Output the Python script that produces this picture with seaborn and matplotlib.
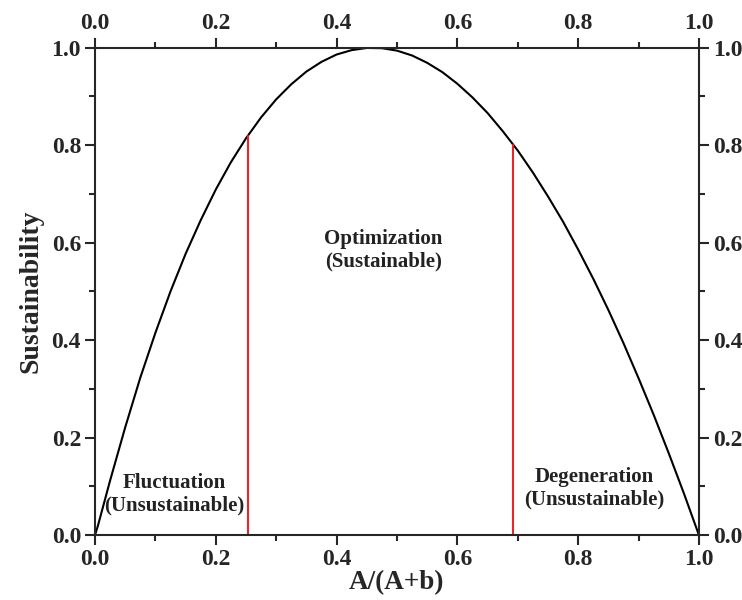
import matplotlib
matplotlib.use("Agg")
import matplotlib.pyplot as plt
import seaborn as sns
import pandas as pd
from matplotlib.ticker import MultipleLocator

# values
ratio = [0.0, 0.005, 0.01, 0.025, 0.05, 0.075, 0.1, 0.125, 0.15, 0.175, 0.2, 0.225,
         0.25, 0.275, 0.3, 0.325, 0.35, 0.375, 0.4, 0.425, 0.45, 0.475, 0.5,
         0.525, 0.55, 0.575, 0.6, 0.625, 0.65, 0.675, 0.7, 0.725, 0.75, 0.775,
         0.8, 0.825, 0.85, 0.875, 0.9, 0.925, 0.95, 0.975, 1.0]
sustain = [0.0, 0.020, 0.043, 0.112, 0.221, 0.323, 0.415, 0.500, 0.577, 0.646, 0.709, 0.765,
           0.814, 0.857, 0.894, 0.925, 0.951, 0.971, 0.986, 0.995, 0.9995, 0.999, 0.994,
           0.984, 0.969, 0.950, 0.926, 0.898, 0.866, 0.829, 0.789, 0.744, 0.695, 0.643,
           0.586, 0.526, 0.462, 0.394, 0.322, 0.247, 0.168, 0.086, 0.0]

# red boundary lines (x position, height where they meet the curve)
bound_x = [0.254, 0.6915]
bound_top = [0.819, 0.800]

region_labels = ["Fluctuation\n(Unsustainable)", "Optimization\n(Sustainable)",
                 "Degeneration\n(Unsustainable)"]
region_x = [0.132, 0.477, 0.826]
region_y = [0.084, 0.585, 0.096]

df = pd.DataFrame({"ratio": ratio, "sustain": sustain})

sns.set_style("ticks")
plt.rcParams["font.family"] = ["Liberation Serif", "DejaVu Serif"]
plt.rcParams["font.weight"] = "bold"

fig = plt.figure(figsize=(7.42, 6.0), dpi=100)
ax = fig.add_axes([0.128, 0.108, 0.814, 0.8125])

sns.lineplot(data=df, x="ratio", y="sustain", ax=ax, color="black", linewidth=1.5)
for bx, bt in zip(bound_x, bound_top):
    ax.plot([bx, bx], [0, bt], color="#e8242c", linewidth=1.5)

for lab, tx, ty in zip(region_labels, region_x, region_y):
    ax.text(tx, ty, lab, ha="center", va="center", fontsize=15,
            fontweight="bold", color="#222222", linespacing=1.2)

ax.set_xlim(0, 1)
ax.set_ylim(0, 1)
ax.xaxis.set_major_locator(MultipleLocator(0.2))
ax.xaxis.set_minor_locator(MultipleLocator(0.1))
ax.yaxis.set_major_locator(MultipleLocator(0.2))
ax.yaxis.set_minor_locator(MultipleLocator(0.1))
ax.tick_params(which="both", direction="out", top=True, right=True,
               labeltop=True, labelright=True, width=1.5, labelsize=17, pad=3)
ax.tick_params(which="major", length=7)
ax.tick_params(which="minor", length=4)
for lab in ax.get_xticklabels() + ax.get_yticklabels():
    lab.set_fontweight("bold")
for sp in ax.spines.values():
    sp.set_visible(True)
    sp.set_linewidth(1.5)

ax.set_xlabel("A/(A+b)", fontsize=19.5, fontweight="bold", labelpad=0)
ax.set_ylabel("Sustainability", fontsize=20, fontweight="bold", labelpad=6)

fig.savefig("out.png", dpi=100)
